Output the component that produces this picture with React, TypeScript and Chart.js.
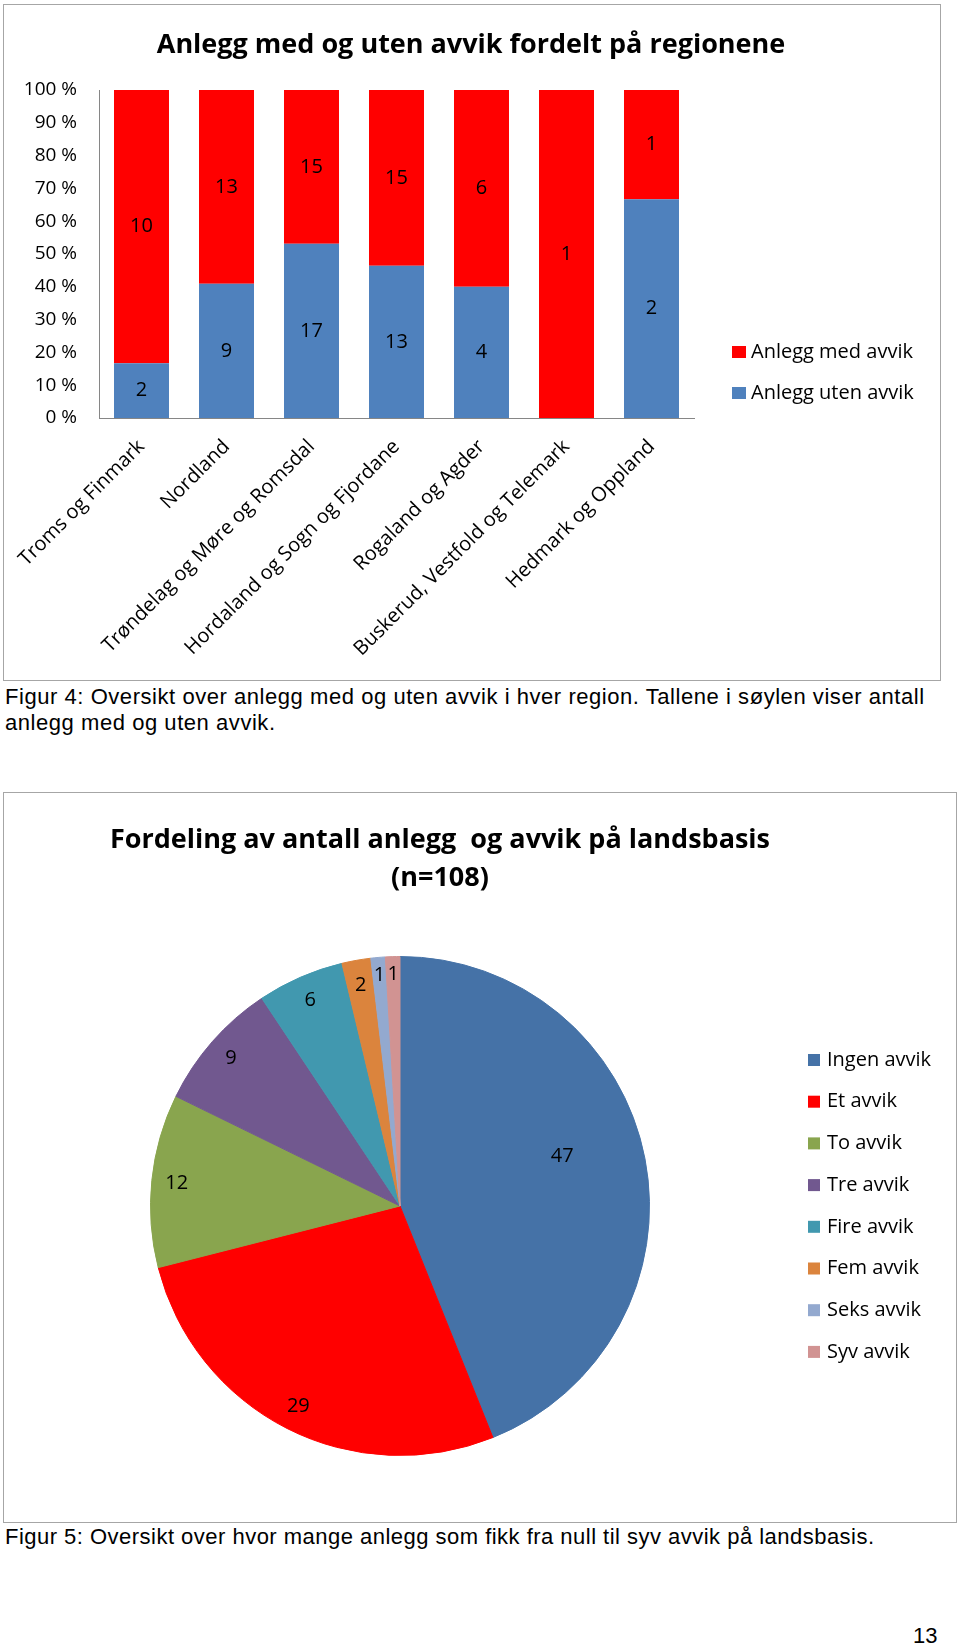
import React, { useEffect, useRef } from "react";
import { Chart, registerables } from "chart.js";

Chart.register(...registerables);

// ---------- Data: bar chart ----------
const barTitle = "Anlegg med og uten avvik fordelt på regionene";
const regions = [
  "Troms og Finmark",
  "Nordland",
  "Trøndelag og Møre og Romsdal",
  "Hordaland og Sogn og Fjordane",
  "Rogaland og Agder",
  "Buskerud, Vestfold og Telemark",
  "Hedmark og Oppland",
];
const utenAvvik = [2, 9, 17, 13, 4, 0, 2];
const medAvvik = [10, 13, 15, 15, 6, 1, 1];
const seriesNames = ["Anlegg uten avvik", "Anlegg med avvik"];
const percentTicks = ["0 %", "10 %", "20 %", "30 %", "40 %", "50 %", "60 %", "70 %", "80 %", "90 %", "100 %"];

// ---------- Data: pie chart ----------
const pieTitle = ["Fordeling av antall anlegg  og avvik på landsbasis", "(n=108)"];
const pieLabels = ["Ingen avvik", "Et avvik", "To avvik", "Tre avvik", "Fire avvik", "Fem avvik", "Seks avvik", "Syv avvik"];
const pieValues = [47, 29, 12, 9, 6, 2, 1, 1];

const caption1 = ["Figur 4: Oversikt over anlegg med og uten avvik i hver region. Tallene i søylen viser antall", "anlegg med og uten avvik."];
const caption2 = "Figur 5: Oversikt over hvor mange anlegg som fikk fra null til syv avvik på landsbasis.";
const pageNumber = "13";

// ---------- Styles ----------
const FONT = '"Open Sans", sans-serif';
const BLUE = "#4F81BD";
const RED = "#FF0000";
const pieColors = ["#4572A7", "#FF0000", "#89A54E", "#71588F", "#4198AF", "#DB843D", "#93A9CF", "#D19392"];
const pieLabelRadius = [0.68, 0.9, 0.9, 0.9, 0.9, 0.9, 0.93, 0.93];
const pieLabelAngleShift = [-6, 0, 0, 0, 0, 0, 0, 0];

const titlePlugin = {
  id: "pageTitle",
  afterDraw(chart: any, _args: any, opts: any) {
    if (!opts || !opts.lines) return;
    const ctx = chart.ctx;
    ctx.save();
    ctx.font = `bold ${opts.size}px ${FONT}`;
    ctx.fillStyle = "#000";
    ctx.textAlign = "center";
    ctx.textBaseline = "middle";
    opts.lines.forEach((line: string, i: number) => {
      ctx.fillText(line, opts.x, opts.y + i * opts.lineHeight);
    });
    ctx.restore();
  },
};

const barLabelPlugin = {
  id: "barLabels",
  afterDatasetsDraw(chart: any) {
    const ctx = chart.ctx;
    ctx.save();
    ctx.font = `20px ${FONT}`;
    ctx.fillStyle = "#000";
    ctx.textAlign = "center";
    ctx.textBaseline = "middle";
    chart.data.datasets.forEach((ds: any, di: number) => {
      const meta = chart.getDatasetMeta(di);
      meta.data.forEach((el: any, i: number) => {
        const c = ds.counts[i];
        if (!c) return;
        const p = el.getProps(["x", "y", "base"], true);
        ctx.fillText(String(c), p.x, (p.y + p.base) / 2);
      });
    });
    ctx.restore();
  },
};

const barLegendPlugin = {
  id: "barLegend",
  afterDraw(chart: any, _args: any, opts: any) {
    const ctx = chart.ctx;
    ctx.save();
    ctx.font = `20px ${FONT}`;
    ctx.textAlign = "left";
    ctx.textBaseline = "middle";
    const ds = chart.data.datasets.slice().reverse();
    ds.forEach((d: any, i: number) => {
      const cy = opts.y + i * opts.spacing;
      ctx.fillStyle = d.backgroundColor;
      ctx.fillRect(opts.x, cy - 6, 14, 12);
      ctx.fillStyle = "#000";
      ctx.fillText(d.label, opts.x + 19, cy);
    });
    ctx.restore();
  },
};

const pieLegendPlugin = {
  id: "pieLegend",
  afterDraw(chart: any, _args: any, opts: any) {
    const ctx = chart.ctx;
    ctx.save();
    ctx.font = `20px ${FONT}`;
    ctx.textAlign = "left";
    ctx.textBaseline = "middle";
    const colors = chart.data.datasets[0].backgroundColor;
    chart.data.labels.forEach((lab: string, i: number) => {
      const cy = opts.y + i * opts.spacing;
      ctx.fillStyle = colors[i];
      ctx.fillRect(opts.x, cy - 6, 12, 12);
      ctx.fillStyle = "#000";
      ctx.fillText(lab, opts.x + 19, cy);
    });
    ctx.restore();
  },
};

const pieLabelPlugin = {
  id: "pieLabels",
  afterDatasetsDraw(chart: any, _args: any, opts: any) {
    const ctx = chart.ctx;
    ctx.save();
    ctx.font = `20px ${FONT}`;
    ctx.fillStyle = "#000";
    ctx.textAlign = "center";
    ctx.textBaseline = "middle";
    const ds = chart.data.datasets[0];
    chart.getDatasetMeta(0).data.forEach((el: any, i: number) => {
      const p = el.getProps(["x", "y", "startAngle", "endAngle", "outerRadius"], true);
      const mid = (p.startAngle + p.endAngle) / 2 + (opts.angleShift[i] * Math.PI) / 180;
      const r = p.outerRadius * opts.radius[i];
      ctx.fillText(String(ds.data[i]), p.x + Math.cos(mid) * r, p.y + Math.sin(mid) * r);
    });
    ctx.restore();
  },
};

function BarChart() {
  const ref = useRef<HTMLCanvasElement | null>(null);
  useEffect(() => {
    if (!ref.current) return;
    const totals = regions.map((_, i) => utenAvvik[i] + medAvvik[i]);
    const chart = new Chart(ref.current, {
      type: "bar",
      data: {
        labels: regions,
        datasets: [
          {
            label: seriesNames[0],
            data: utenAvvik.map((v, i) => (v / totals[i]) * 100),
            counts: utenAvvik,
            backgroundColor: BLUE,
            barPercentage: 0.647,
            categoryPercentage: 1,
          } as any,
          {
            label: seriesNames[1],
            data: medAvvik.map((v, i) => (v / totals[i]) * 100),
            counts: medAvvik,
            backgroundColor: RED,
            barPercentage: 0.647,
            categoryPercentage: 1,
          } as any,
        ],
      },
      options: {
        responsive: false,
        animation: false,
        layout: { padding: { top: 85, right: 246, left: 0, bottom: 0 } },
        plugins: {
          legend: { display: false },
          tooltip: { enabled: false },
          title: { display: false },
          pageTitle: { lines: [barTitle], x: 467, y: 40, size: 27, lineHeight: 38 },
          barLegend: { x: 728, y: 347, spacing: 41 },
        } as any,
        scales: {
          x: {
            stacked: true,
            grid: { display: false, drawTicks: false },
            border: { display: true, color: "#868686", width: 1 },
            ticks: {
              autoSkip: false,
              minRotation: 45,
              maxRotation: 45,
              padding: 17,
              labelOffset: 0,
              color: "#000",
              font: { family: FONT, size: 20 },
            },
            afterFit: (s: any) => {
              s.height = 262;
              s.paddingLeft = 0;
              s.paddingRight = 0;
            },
          },
          y: {
            stacked: true,
            min: 0,
            max: 100,
            grid: { display: false, drawTicks: false },
            border: { display: true, color: "#868686", width: 1 },
            ticks: {
              stepSize: 10,
              padding: 22,
              color: "#000",
              font: { family: FONT, size: 19 },
              callback: (v: any) => percentTicks[Math.round(Number(v) / 10)],
            },
            afterFit: (s: any) => {
              s.width = 95;
            },
          },
        },
      },
      plugins: [titlePlugin, barLabelPlugin, barLegendPlugin],
    });
    return () => chart.destroy();
  }, []);
  return <canvas ref={ref} width={936} height={675} style={{ display: "block", width: 936, height: 675 }} />;
}

function PieChart() {
  const ref = useRef<HTMLCanvasElement | null>(null);
  useEffect(() => {
    if (!ref.current) return;
    const chart = new Chart(ref.current, {
      type: "pie",
      data: {
        labels: pieLabels,
        datasets: [
          {
            data: pieValues,
            backgroundColor: pieColors,
            borderColor: pieColors,
            borderWidth: 1,
          },
        ],
      },
      options: {
        responsive: false,
        animation: false,
        layout: { padding: { left: 146, right: 306, top: 163, bottom: 66 } },
        plugins: {
          legend: { display: false },
          tooltip: { enabled: false },
          title: { display: false },
          pageTitle: { lines: pieTitle, x: 436, y: 47, size: 27, lineHeight: 38 },
          pieLegend: { x: 804, y: 267, spacing: 41.7 },
          pieLabels: { radius: pieLabelRadius, angleShift: pieLabelAngleShift },
        } as any,
      },
      plugins: [titlePlugin, pieLabelPlugin, pieLegendPlugin],
    });
    return () => chart.destroy();
  }, []);
  return <canvas ref={ref} width={952} height={729} style={{ display: "block", width: 952, height: 729 }} />;
}

const boxBorder = "1px solid #a6a6a6";
const captionStyle: React.CSSProperties = {
  position: "absolute",
  fontFamily: '"Liberation Sans", Arial, sans-serif',
  fontSize: 22,
  lineHeight: "26px",
  letterSpacing: "0.55px",
  color: "#000",
  whiteSpace: "nowrap",
  margin: 0,
};

export default function App() {
  return (
    <div style={{ position: "absolute", left: 0, top: 0, width: 960, height: 1649, background: "#fff" }}>
      <div
        style={{
          position: "absolute",
          left: 3,
          top: 4,
          width: 938,
          height: 677,
          border: boxBorder,
          boxSizing: "border-box",
        }}
      >
        <BarChart />
      </div>
      <div style={{ ...captionStyle, left: 5, top: 684 }}>
        {caption1[0]}
        <br />
        {caption1[1]}
      </div>
      <div
        style={{
          position: "absolute",
          left: 3,
          top: 792,
          width: 954,
          height: 731,
          border: boxBorder,
          boxSizing: "border-box",
        }}
      >
        <PieChart />
      </div>
      <div style={{ ...captionStyle, left: 5, top: 1524, letterSpacing: "0.48px" }}>{caption2}</div>
      <div style={{ ...captionStyle, left: 913, top: 1623, letterSpacing: "0px" }}>{pageNumber}</div>
    </div>
  );
}
